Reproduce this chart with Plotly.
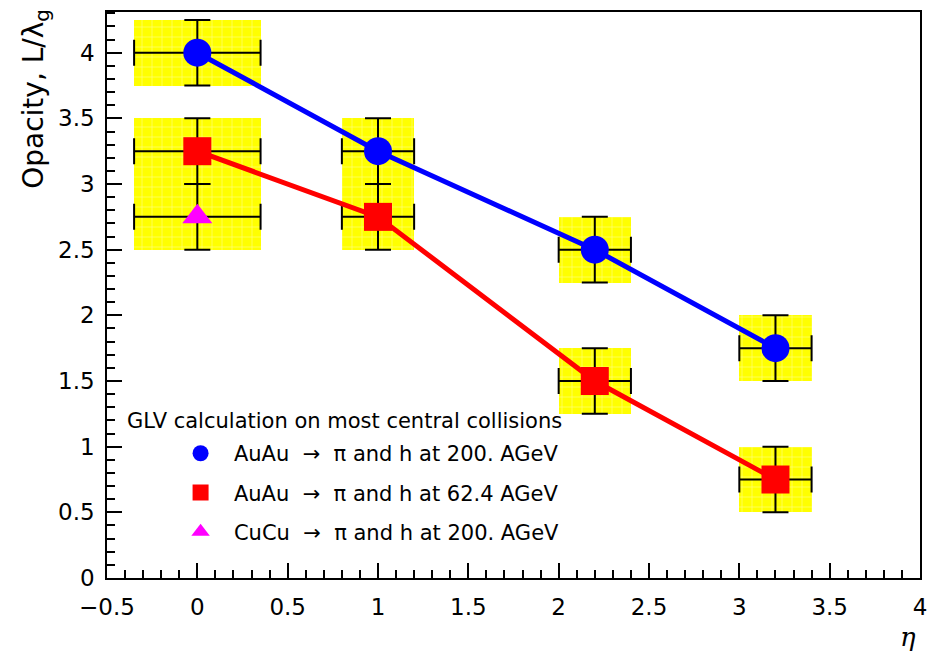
import plotly.graph_objects as go

# Opacity L/lambda_g vs pseudorapidity from GLV fits
eta_auau200 = [0.0, 1.0, 2.2, 3.2]
opac_auau200 = [4.0, 3.25, 2.5, 1.75]
dy_auau200 = [0.25, 0.25, 0.25, 0.25]
dx_auau200 = [0.35, 0.2, 0.2, 0.2]

eta_auau62 = [0.0, 1.0, 2.2, 3.2]
opac_auau62 = [3.25, 2.75, 1.5, 0.75]
dy_auau62 = [0.25, 0.25, 0.25, 0.25]
dx_auau62 = [0.35, 0.2, 0.2, 0.2]

eta_cucu200 = [0.0]
opac_cucu200 = [2.75]
dy_cucu200 = [0.25]
dx_cucu200 = [0.35]

series = [
    dict(name="  AuAu  \u2192  \u03c0 and h at 200. AGeV", x=eta_auau200, y=opac_auau200,
         dx=dx_auau200, dy=dy_auau200, color="#0000ff", symbol="circle", line=True),
    dict(name="  AuAu  \u2192  \u03c0 and h at 62.4 AGeV", x=eta_auau62, y=opac_auau62,
         dx=dx_auau62, dy=dy_auau62, color="#ff0000", symbol="square", line=True),
    dict(name="  CuCu  \u2192  \u03c0 and h at 200. AGeV", x=eta_cucu200, y=opac_cucu200,
         dx=dx_cucu200, dy=dy_cucu200, color="#ff00ff", symbol="triangle-up", line=False),
]

FONT = "DejaVu Sans"
fig = go.Figure()

# systematic-uncertainty boxes (yellow with white grid)
for s in series:
    fig.add_trace(go.Bar(
        x=s["x"],
        y=[2 * d for d in s["dy"]],
        base=[v - d for v, d in zip(s["y"], s["dy"])],
        width=[2 * d for d in s["dx"]],
        marker=dict(color="#ffff00", line=dict(width=0),
                    pattern=dict(shape="+", fgcolor="#ffffff", bgcolor="#ffff00",
                                 size=10, solidity=0.12, fillmode="overlay")),
        showlegend=False, hoverinfo="skip",
    ))

# error bars
for s in series:
    fig.add_trace(go.Scatter(
        x=s["x"], y=s["y"], mode="markers",
        marker=dict(size=1, color="rgba(0,0,0,0)"),
        error_x=dict(type="data", array=s["dx"], color="black", thickness=2, width=13),
        error_y=dict(type="data", array=s["dy"], color="black", thickness=2, width=13),
        showlegend=False, hoverinfo="skip",
    ))

# connecting lines
for s in series:
    if s["line"]:
        fig.add_trace(go.Scatter(
            x=s["x"], y=s["y"], mode="lines",
            line=dict(color=s["color"], width=5),
            showlegend=False, hoverinfo="skip",
        ))

# markers (also the legend entries)
for i, s in enumerate(series):
    fig.add_trace(go.Scatter(
        x=s["x"], y=s["y"], mode="markers", name=s["name"],
        marker=dict(symbol=s["symbol"], size=28 if s["symbol"] != "triangle-up" else 26,
                    color=s["color"], line=dict(width=0)),
        legendgroup=f"g{i}",
    ))

fig.update_layout(
    width=937, height=656,
    margin=dict(l=107, r=10, t=11, b=78),
    paper_bgcolor="white", plot_bgcolor="white",
    barmode="overlay", bargap=0,
    font=dict(family=FONT, size=23, color="black"),
    showlegend=True,
    legend=dict(x=0.0905, y=0.256, xanchor="left", yanchor="top",
                bgcolor="rgba(0,0,0,0)", borderwidth=0,
                font=dict(family=FONT, size=21, color="black"),
                tracegroupgap=9, itemsizing="trace"),
    annotations=[
        dict(text="GLV calculation on most central collisions", xref="paper", yref="paper",
             x=0.022, y=0.277, xanchor="left", yanchor="middle", showarrow=False,
             font=dict(family=FONT, size=21, color="black")),
        dict(text="Opacity, L/\u03bb<sub>g</sub>", xref="paper", yref="paper",
             x=-0.088, y=1.01, xanchor="center", yanchor="top", textangle=-90,
             showarrow=False, font=dict(family=FONT, size=28, color="black")),
        dict(text="\u03b7", xref="paper", yref="paper",
             x=0.985, y=-0.104, xanchor="center", yanchor="middle", showarrow=False,
             font=dict(family="DejaVu Serif", size=26, color="black", style="italic")),
    ],
)

fig.update_xaxes(
    range=[-0.5, 4.0], dtick=0.5, tick0=0, showgrid=False, zeroline=False,
    showline=True, linecolor="black", linewidth=1.5, mirror=True,
    ticks="inside", ticklen=15, tickwidth=1.5, tickcolor="black",
    minor=dict(ticks="inside", ticklen=8, dtick=0.1, tickwidth=1.5, tickcolor="black", showgrid=False),
    ticklabelstandoff=8,
)
fig.update_yaxes(
    range=[0, 4.31], dtick=0.5, tick0=0, showgrid=False, zeroline=False,
    showline=True, linecolor="black", linewidth=1.5, mirror=True,
    ticks="inside", ticklen=15, tickwidth=1.5, tickcolor="black",
    minor=dict(ticks="inside", ticklen=8, dtick=0.1, tickwidth=1.5, tickcolor="black", showgrid=False),
    ticklabelstandoff=6,
)

fig.write_html("out.html")
